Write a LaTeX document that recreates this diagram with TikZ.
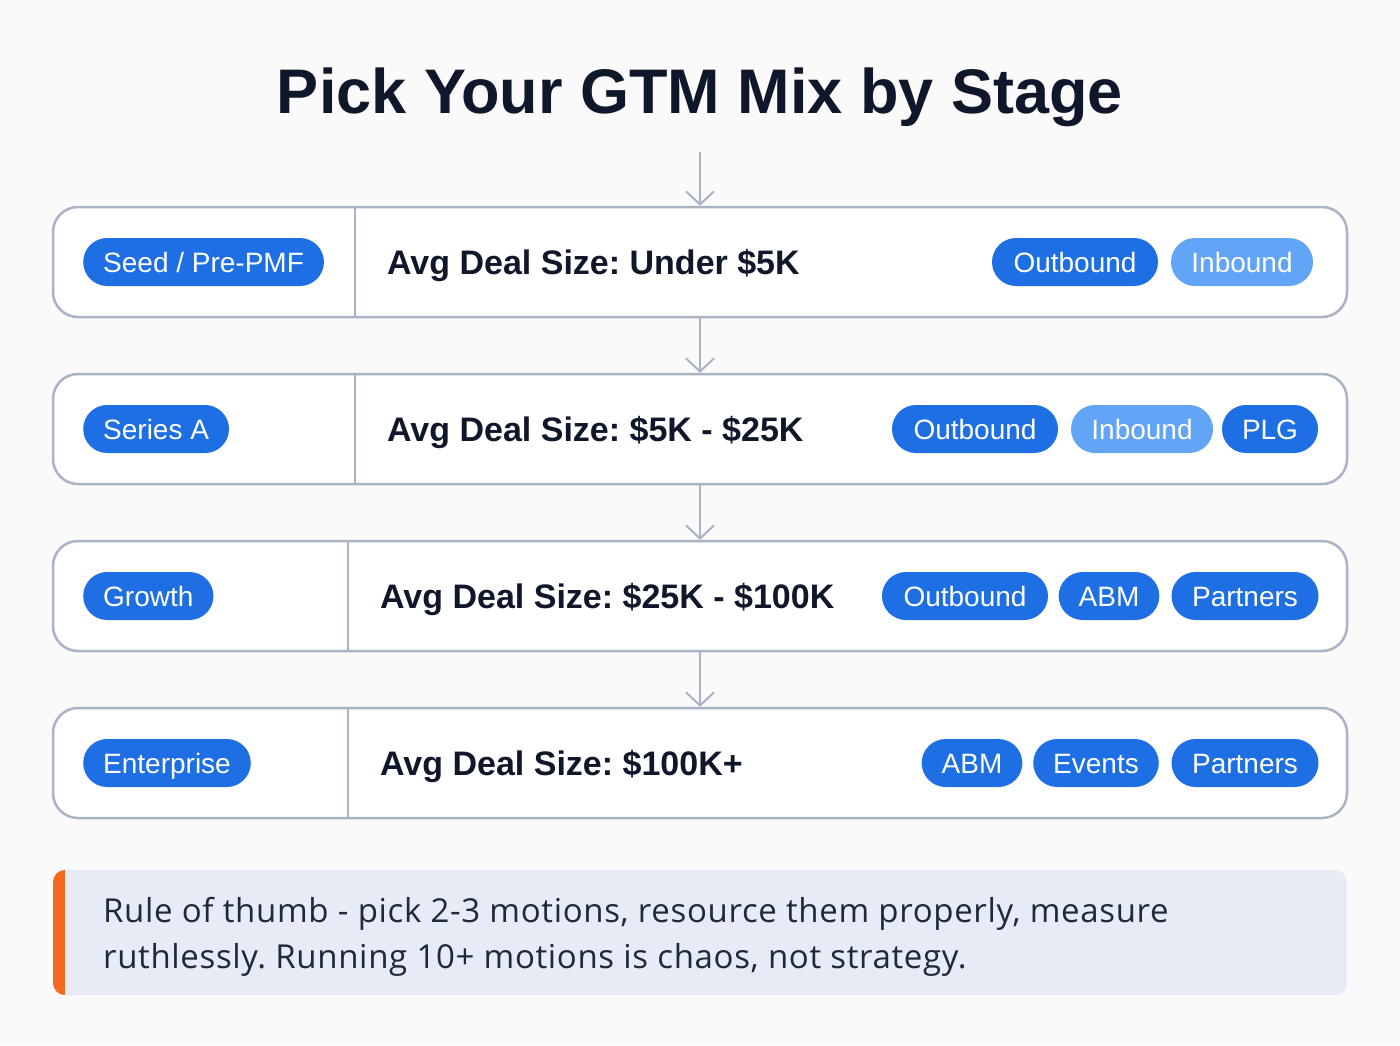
\documentclass[tikz,border=0pt]{standalone}
\usepackage{fontspec}
\setmainfont{Liberation Sans}
\newfontfamily\notefont[LetterSpace=2]{Open Sans}
\usetikzlibrary{arrows.meta}
\frenchspacing
\definecolor{pagebg}{HTML}{FAFAFA}
\definecolor{inkdark}{HTML}{0F172A}
\definecolor{notetext}{HTML}{1E293B}
\definecolor{rowline}{HTML}{A9B3C6}
\definecolor{pillblue}{HTML}{1D6FE3}
\definecolor{pilllight}{HTML}{62A4F5}
\definecolor{notefill}{HTML}{E6EBF5}
\definecolor{notebar}{HTML}{F26A21}
\tikzset{
  stagerow/.style={draw=rowline,line width=2.5pt,fill=white,rounded corners=25pt,
    minimum width=1294pt,minimum height=110pt,inner sep=0pt},
  pill/.style={fill=pillblue,text=white,rounded corners=24pt,minimum height=48pt,
    inner xsep=20pt,inner ysep=0pt,text height=21pt,text depth=1pt,
    font=\fontsize{28}{32}\selectfont},
  pilllt/.style={pill,fill=pilllight},
  deal/.style={anchor=base west,inner sep=0pt,text=inkdark,font=\fontsize{34}{38}\selectfont\bfseries},
  flow/.style={draw=rowline,line width=2pt,-{Straight Barb[length=13pt,width=28pt,line width=2pt]}},
}
\begin{document}
\begin{tikzpicture}[x=1pt,y=-1pt]
  \useasboundingbox (0,0) rectangle (1400,1045);
  \fill[pagebg] (0,0) rectangle (1400,1045);
%%
  % Node: title
  \node[text=inkdark,font=\fontsize{63}{70}\selectfont\bfseries] (title) at (700,97) {Pick Your GTM Mix by Stage};
  % Node: rows
  \node[stagerow] (seed) at (700,262) {};
  \node[stagerow] (seriesa) at (700,429) {};
  \node[stagerow] (growth) at (700,596) {};
  \node[stagerow] (enterprise) at (700,763) {};
  % dividers
  \draw[rowline,line width=2.5pt] (355,207) -- (355,317);
  \draw[rowline,line width=2.5pt] (355,374) -- (355,484);
  \draw[rowline,line width=2.5pt] (348,541) -- (348,651);
  \draw[rowline,line width=2.5pt] (348,708) -- (348,818);
  % Edge: title -> seed
  \coordinate (titlefoot) at (700,152);
  \draw[flow] (titlefoot) -- (seed.north);
  % Edge: seed -> seriesa
  \draw[flow] (seed.south) -- (seriesa.north);
  % Edge: seriesa -> growth
  \draw[flow] (seriesa.south) -- (growth.north);
  % Edge: growth -> enterprise
  \draw[flow] (growth.south) -- (enterprise.north);
  % Node: seed
  \node[pill,anchor=west] (seedstage) at (83,262) {Seed / Pre-PMF};
  \node[deal] (seeddeal) at (387,274) {Avg Deal Size: Under \$5K};
  \node[pill,minimum width=166pt] (seedout) at (1075,262) {Outbound};
  \node[pilllt,minimum width=142pt] (seedin) at (1242,262) {Inbound};
  % Node: seriesa
  \node[pill,anchor=west] (astage) at (83,429) {Series A};
  \node[deal] (adeal) at (387,441) {Avg Deal Size: \$5K - \$25K};
  \node[pill,minimum width=166pt] (aout) at (975,429) {Outbound};
  \node[pilllt,minimum width=142pt] (ain) at (1142,429) {Inbound};
  \node[pill,minimum width=88pt] (aplg) at (1270,429) {PLG};
  % Node: growth
  \node[pill,anchor=west] (growthstage) at (83,596) {Growth};
  \node[deal] (growthdeal) at (380,608) {Avg Deal Size: \$25K - \$100K};
  \node[pill,minimum width=166pt] (growthout) at (965,596) {Outbound};
  \node[pill,minimum width=97pt] (growthabm) at (1109,596) {ABM};
  \node[pill,minimum width=147pt] (growthpart) at (1245,596) {Partners};
  % Node: enterprise
  \node[pill,anchor=west] (entstage) at (83,763) {Enterprise};
  \node[deal] (entdeal) at (380,775) {Avg Deal Size: \$100K+};
  \node[pill,minimum width=97pt] (entabm) at (972,763) {ABM};
  \node[pill,minimum width=125pt] (entevents) at (1096,763) {Events};
  \node[pill,minimum width=147pt] (entpart) at (1245,763) {Partners};
  % Node: note
  \begin{scope}
    \clip[rounded corners=12pt] (53,870) rectangle (1347,995);
    \fill[notefill] (53,870) rectangle (1347,995);
    \fill[notebar] (53,870) rectangle (65,995);
  \end{scope}
  \node[anchor=base west,align=left,inner sep=0pt,text=notetext,font=\notefont\fontsize{33}{46}\selectfont] (note) at (103,968)
    {Rule of thumb - pick 2-3 motions, resource them properly, measure\\ruthlessly. Running 10+ motions is chaos, not strategy.};
%
\end{tikzpicture}
\end{document}
